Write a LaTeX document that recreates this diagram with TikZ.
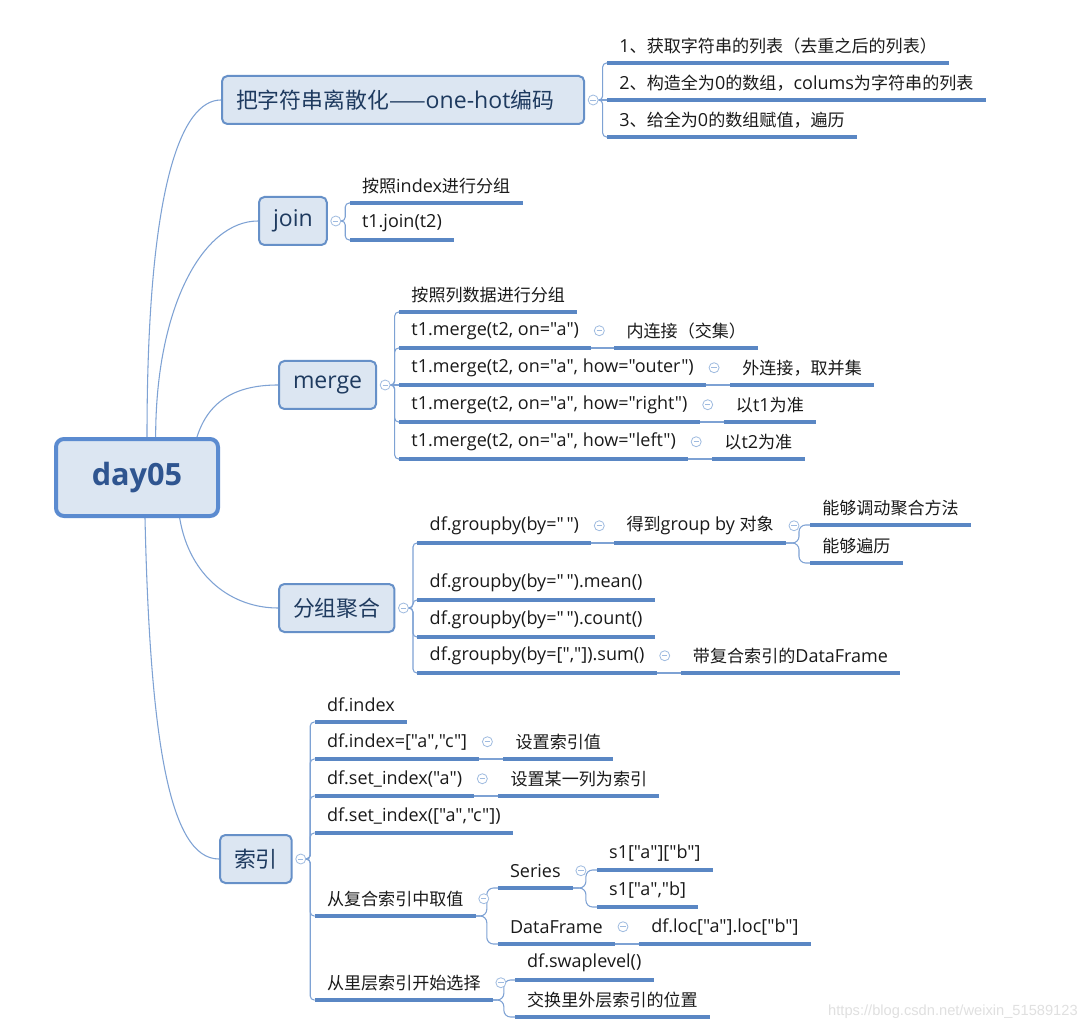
\documentclass[tikz,border=0pt]{standalone}
\usepackage{fontspec}
\setmainfont{Open Sans}[Ligatures=TeXOff,Scale=1.055]
\newfontfamily\latfont{Open Sans}[Ligatures=TeXOff,Scale=1.055]
\newfontfamily\cjkfont{Noto Sans CJK SC}[Ligatures=TeXOff]
\newfontfamily\wmfont{Liberation Sans}[Ligatures=TeXOff]
\usetikzlibrary{calc}
% switch to the CJK font for CJK characters and back for Latin ones
\XeTeXinterchartokenstate=1
\newXeTeXintercharclass\CJKcls
\makeatletter
\count@="4E00
\loop\XeTeXcharclass\count@=\CJKcls\advance\count@ 1 \ifnum\count@<"A000 \repeat
\count@="3000
\loop\XeTeXcharclass\count@=\CJKcls\advance\count@ 1 \ifnum\count@<"3040 \repeat
\count@="FF00
\loop\XeTeXcharclass\count@=\CJKcls\advance\count@ 1 \ifnum\count@<"FFF0 \repeat
\makeatother
\XeTeXcharclass"2014=\CJKcls
\XeTeXinterchartoks 0 \CJKcls = {\cjkfont}
\XeTeXinterchartoks 4095 \CJKcls = {\cjkfont}
\XeTeXinterchartoks \CJKcls 0 = {\latfont}
\definecolor{boxfill}{HTML}{DCE6F2}
\definecolor{boxline}{HTML}{6690C8}
\definecolor{rootline}{HTML}{5B8BD0}
\definecolor{conncol}{HTML}{7EA2D4}
\definecolor{ulcol}{HTML}{5A87C4}
\definecolor{circcol}{HTML}{9FBBE0}
\definecolor{roottext}{HTML}{2F5590}
\definecolor{mtext}{HTML}{1E3A5F}
\definecolor{leaftext}{HTML}{1A1A1A}
\definecolor{wmcol}{HTML}{E0E0E0}
\tikzset{
 rootbox/.style={draw=rootline, line width=3pt, fill=boxfill, rounded corners=6pt, minimum width=121.5pt, minimum height=57.75pt, text=roottext, font=\fontsize{21.8}{26}\selectfont\bfseries},
 mainbox/.style={draw=boxline, line width=1.5pt, fill=boxfill, rounded corners=4pt, minimum height=36pt, inner xsep=10.5pt, anchor=west, text=mtext, font=\fontsize{16.4}{20}\selectfont},
 leaf/.style={anchor=south west, inner xsep=9pt, inner ysep=0pt, minimum height=25.5pt, text=leaftext, font=\fontsize{12.8}{15}\selectfont},
 ul/.style={draw=ulcol, line width=2.4pt},
 conn/.style={draw=conncol, line width=0.8pt},
 boxbrace/.style={conn, rounded corners=3pt},
 leafbrace/.style={conn, rounded corners=5pt},
 fold/.style={circle, draw=circcol, fill=white, line width=0.6pt, minimum size=7.5pt, inner sep=0pt,
   path picture={\draw[circcol, line width=0.6pt] ([xshift=-2pt]path picture bounding box.center) -- ([xshift=2pt]path picture bounding box.center);}},
}
\begin{document}
\begin{tikzpicture}[x=0.75pt,y=-0.75pt]
\fill[white] (0,0) rectangle (1085,1030);
\useasboundingbox (0,0) rectangle (1085,1030);

% root
\node[rootbox] (root) at (137,477.5) {day05};

% main topics
\node[mainbox] (b1) at (221,100) {把字符串离散化——one-hot编码\kern12pt};
\node[mainbox] (b2) at (258,221) {join};
\node[mainbox] (b3) at (278,385) {merge};
\node[mainbox] (b4) at (278,608) {分组聚合};
\node[mainbox] (b5) at (219,859) {索引};

% root connectors
\draw[conn] ([xshift=7.5pt]root.north) .. controls +(0,-250) and +(-40,0) .. (b1.west);
\draw[conn] ([xshift=14pt]root.north) .. controls +(0,-130) and +(-55,0) .. (b2.west);
\draw[conn] ([xshift=45pt]root.north) .. controls +(12,-38) and +(-40,0) .. (b3.west);
\draw[conn] ([xshift=32pt]root.south) .. controls +(10,60) and +(-45,0) .. (b4.west);
\draw[conn] ([xshift=6pt]root.south) .. controls +(5,220) and +(-50,0) .. (b5.west);

% fold circles of main topics
\foreach \b in {b1,b2,b3,b4,b5} \node[fold] (f\b) at ($(\b.east)+(8,0)$) {};

% ---- one-hot
\node[leaf] (b1a) at ($(b1.east)+(22,-37)$) {1、获取字符串的列表（去重之后的列表）};
\node[leaf] (b1b) at ($(b1.east)+(22,0)$) {2、构造全为0的数组，colums为字符串的列表};
\node[leaf] (b1c) at ($(b1.east)+(22,37)$) {3、给全为0的数组赋值，遍历};
\draw[boxbrace] (fb1.east) -| ($(b1a.south west)+(-4.5,0)$) -- (b1a.south west);
\draw[conn] (fb1.east) -- (b1b.south west);
\draw[boxbrace] (fb1.east) -| ($(b1c.south west)+(-4.5,0)$) -- (b1c.south west);

% ---- join
\node[leaf] (b2a) at ($(b2.east)+(22,-18)$) {按照index进行分组};
\node[leaf] (b2b) at ($(b2.east)+(22,19)$) {t1.join(t2)};
\draw[boxbrace] (fb2.east) -| ($(b2a.south west)+(-4.5,0)$) -- (b2a.south west);
\draw[boxbrace] (fb2.east) -| ($(b2b.south west)+(-4.5,0)$) -- (b2b.south west);

% ---- merge
\node[leaf] (m1) at ($(b3.east)+(22,-73)$) {按照列数据进行分组};
\node[leaf] (m2) at ($(b3.east)+(22,-37)$) {t1.merge(t2, on="a")};
\node[leaf] (m3) at ($(b3.east)+(22,0)$) {t1.merge(t2, on="a", how="outer")};
\node[leaf] (m4) at ($(b3.east)+(22,37)$) {t1.merge(t2, on="a", how="right")};
\node[leaf] (m5) at ($(b3.east)+(22,74)$) {t1.merge(t2, on="a", how="left")};
\foreach \c in {m1,m2,m4,m5} \draw[boxbrace] (fb3.east) -| ($(\c.south west)+(-4.5,0)$) -- (\c.south west);
\draw[conn] (fb3.east) -- (m3.south west);
\node[leaf] (m2a) at ($(m2.south east)+(23,0)$) {内连接（交集）};
\node[leaf] (m3a) at ($(m3.south east)+(24,0)$) {外连接，取并集};
\node[leaf] (m4a) at ($(m4.south east)+(24,0)$) {以t1为准};
\node[leaf] (m5a) at ($(m5.south east)+(24,0)$) {以t2为准};
\foreach \p in {m2,m3,m4,m5} {
  \node[fold] (f\p) at ($(\p.east)+(8,0)$) {};
  \draw[conn] (\p.south east) -- (\p a.south west);
}

% ---- groupby
\node[leaf] (g1) at ($(b4.east)+(22,-65)$) {df.groupby(by="\kern2pt")};
\node[leaf] (g2) at ($(b4.east)+(22,-8)$) {df.groupby(by="\kern2pt").mean()};
\node[leaf] (g3) at ($(b4.east)+(22,29)$) {df.groupby(by="\kern2pt").count()};
\node[leaf] (g4) at ($(b4.east)+(22,65)$) {df.groupby(by=[","]).sum()};
\foreach \c in {g1,g2,g3,g4} \draw[boxbrace] (fb4.east) -| ($(\c.south west)+(-4.5,0)$) -- (\c.south west);
\node[leaf] (g1a) at ($(g1.south east)+(23,0)$) {得到group by 对象};
\node[leaf] (g1a1) at ($(g1a.south east)+(24,-18)$) {能够调动聚合方法};
\node[leaf] (g1a2) at ($(g1a.south east)+(24,20)$) {能够遍历};
\node[leaf] (g4a) at ($(g4.south east)+(24,0)$) {带复合索引的DataFrame};
\foreach \p in {g1,g1a,g4} \node[fold] (f\p) at ($(\p.east)+(8,0)$) {};
\draw[conn] (g1.south east) -- (g1a.south west);
\draw[conn] (g4.south east) -- (g4a.south west);
\draw[leafbrace] (g1a.south east) -| ($(g1a1.south west)+(-11,0)$) -- (g1a1.south west);
\draw[leafbrace] (g1a.south east) -| ($(g1a2.south west)+(-11,0)$) -- (g1a2.south west);

% ---- index
\node[leaf] (i1) at ($(b5.east)+(22,-137)$) {df.index};
\node[leaf] (i2) at ($(b5.east)+(22,-100)$) {df.index=["a","c"]};
\node[leaf] (i3) at ($(b5.east)+(22,-63)$) {df.set\_index("a")};
\node[leaf] (i4) at ($(b5.east)+(22,-26)$) {df.set\_index(["a","c"])};
\node[leaf] (i5) at ($(b5.east)+(22,57)$) {从复合索引中取值};
\node[leaf] (i6) at ($(b5.east)+(22,141)$) {从里层索引开始选择};
\foreach \c in {i1,i2,i3,i4,i5,i6} \draw[boxbrace] (fb5.east) -| ($(\c.south west)+(-4.5,0)$) -- (\c.south west);
\node[leaf] (i2a) at ($(i2.south east)+(24,0)$) {设置索引值};
\node[leaf] (i3a) at ($(i3.south east)+(24,0)$) {设置某一列为索引};
\draw[conn] (i2.south east) -- (i2a.south west);
\draw[conn] (i3.south east) -- (i3a.south west);
\node[leaf] (i5a) at ($(i5.south east)+(22,-28)$) {Series};
\node[leaf] (i5b) at ($(i5.south east)+(22,28)$) {DataFrame};
\draw[leafbrace] (i5.south east) -| ($(i5a.south west)+(-11,0)$) -- (i5a.south west);
\draw[leafbrace] (i5.south east) -| ($(i5b.south west)+(-11,0)$) -- (i5b.south west);
\node[leaf] (i5a1) at ($(i5a.south east)+(24,-18)$) {s1["a"]["b"]};
\node[leaf] (i5a2) at ($(i5a.south east)+(24,19)$) {s1["a","b]};
\draw[leafbrace] (i5a.south east) -| ($(i5a1.south west)+(-11,0)$) -- (i5a1.south west);
\draw[leafbrace] (i5a.south east) -| ($(i5a2.south west)+(-11,0)$) -- (i5a2.south west);
\node[leaf] (i5b1) at ($(i5b.south east)+(24,0)$) {df.loc["a"].loc["b"]};
\draw[conn] (i5b.south east) -- (i5b1.south west);
\node[leaf] (i6a) at ($(i6.south east)+(22,-20)$) {df.swaplevel()};
\node[leaf] (i6b) at ($(i6.south east)+(22,17)$) {交换里外层索引的位置};
\draw[leafbrace] (i6.south east) -| ($(i6a.south west)+(-11,0)$) -- (i6a.south west);
\draw[leafbrace] (i6.south east) -| ($(i6b.south west)+(-11,0)$) -- (i6b.south west);
\foreach \p in {i2,i3,i5,i5a,i5b,i6} \node[fold] (f\p) at ($(\p.east)+(8,0)$) {};

% underlines
\foreach \n in {b1a,b1b,b1c,b2a,b2b,m1,m2,m3,m4,m5,m2a,m3a,m4a,m5a,g1,g2,g3,g4,g1a,g1a1,g1a2,g4a,i1,i2,i3,i4,i5,i6,i2a,i3a,i5a,i5b,i5a1,i5a2,i5b1,i6a,i6b}
  \draw[ul] (\n.south west) -- (\n.south east);

% watermark
\node[anchor=east, inner sep=0pt, text=wmcol, font=\wmfont\fontsize{11}{13}\selectfont] (wm) at (1078,1012) {https://blog.csdn.net/weixin\_51589123};
\end{tikzpicture}
\end{document}
